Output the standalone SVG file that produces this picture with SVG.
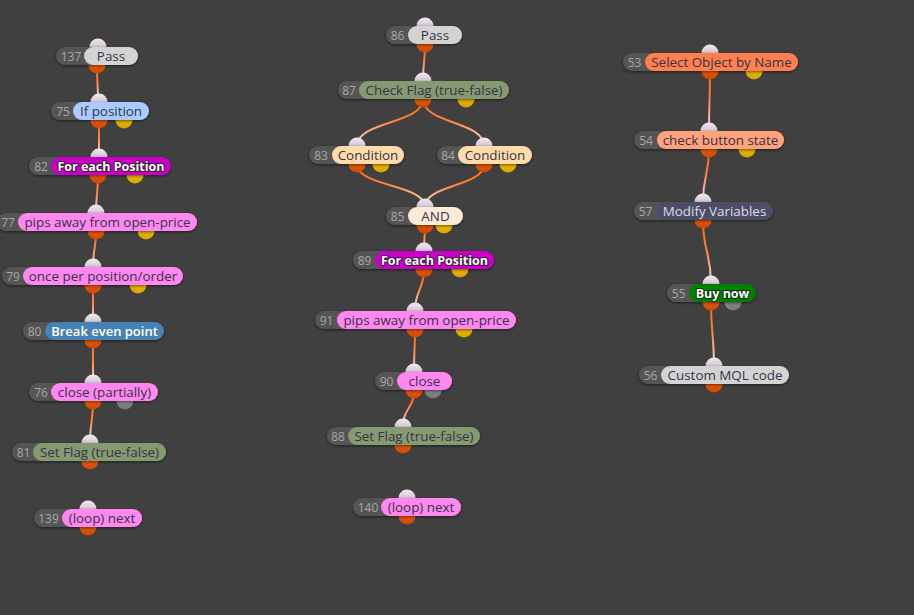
<svg xmlns="http://www.w3.org/2000/svg" xmlns:xlink="http://www.w3.org/1999/xlink" width="914" height="615" viewBox="0 0 914 615">
<defs>
<linearGradient id="gIn" x1="0" y1="0" x2="0" y2="1"><stop offset="0" stop-color="#f2e8f2"/><stop offset="1" stop-color="#b5a5b5"/></linearGradient>
<linearGradient id="gOut" x1="0" y1="0" x2="0" y2="1"><stop offset="0" stop-color="#ff6d10"/><stop offset="1" stop-color="#d04800"/></linearGradient>
<linearGradient id="gY" x1="0" y1="0" x2="0" y2="1"><stop offset="0" stop-color="#ffcc00"/><stop offset="1" stop-color="#d8a400"/></linearGradient>
<linearGradient id="gG" x1="0" y1="0" x2="0" y2="1"><stop offset="0" stop-color="#9a9a9a"/><stop offset="1" stop-color="#777"/></linearGradient>
<linearGradient id="cg"><stop offset="0" stop-color="#ff6a10"/><stop offset="0.45" stop-color="#ff7f3a"/><stop offset="1" stop-color="#f4e2ec"/></linearGradient>
<linearGradient id="c1" xlink:href="#cg" gradientUnits="userSpaceOnUse" x1="0" y1="65" x2="0" y2="102"/>
<linearGradient id="c2" xlink:href="#cg" gradientUnits="userSpaceOnUse" x1="0" y1="120" x2="0" y2="157"/>
<linearGradient id="c3" xlink:href="#cg" gradientUnits="userSpaceOnUse" x1="0" y1="175" x2="0" y2="213"/>
<linearGradient id="c4" xlink:href="#cg" gradientUnits="userSpaceOnUse" x1="0" y1="231" x2="0" y2="267"/>
<linearGradient id="c5" xlink:href="#cg" gradientUnits="userSpaceOnUse" x1="0" y1="285" x2="0" y2="322"/>
<linearGradient id="c6" xlink:href="#cg" gradientUnits="userSpaceOnUse" x1="0" y1="340" x2="0" y2="383"/>
<linearGradient id="c7" xlink:href="#cg" gradientUnits="userSpaceOnUse" x1="0" y1="401" x2="0" y2="443"/>
<linearGradient id="m1" xlink:href="#cg" gradientUnits="userSpaceOnUse" x1="0" y1="44" x2="0" y2="81"/>
<linearGradient id="m2" xlink:href="#cg" gradientUnits="userSpaceOnUse" x1="0" y1="99" x2="0" y2="146"/>
<linearGradient id="m3" xlink:href="#cg" gradientUnits="userSpaceOnUse" x1="0" y1="164" x2="0" y2="207"/>
<linearGradient id="m4" xlink:href="#cg" gradientUnits="userSpaceOnUse" x1="0" y1="225" x2="0" y2="251"/>
<linearGradient id="m5" xlink:href="#cg" gradientUnits="userSpaceOnUse" x1="0" y1="269" x2="0" y2="311"/>
<linearGradient id="m6" xlink:href="#cg" gradientUnits="userSpaceOnUse" x1="0" y1="329" x2="0" y2="372"/>
<linearGradient id="m7" xlink:href="#cg" gradientUnits="userSpaceOnUse" x1="0" y1="390" x2="0" y2="427"/>
<linearGradient id="r1" xlink:href="#cg" gradientUnits="userSpaceOnUse" x1="0" y1="71" x2="0" y2="131"/>
<linearGradient id="r2" xlink:href="#cg" gradientUnits="userSpaceOnUse" x1="0" y1="149" x2="0" y2="202"/>
<linearGradient id="r3" xlink:href="#cg" gradientUnits="userSpaceOnUse" x1="0" y1="220" x2="0" y2="284"/>
<linearGradient id="r4" xlink:href="#cg" gradientUnits="userSpaceOnUse" x1="0" y1="302" x2="0" y2="366"/>
<filter id="sh" x="-20%" y="-50%" width="140%" height="200%"><feDropShadow dx="0" dy="1" stdDeviation="1.5" flood-color="#000" flood-opacity="0.55"/></filter>
</defs>
<style>
.in{fill:url(#gIn)}
.out{fill:url(#gOut)}
.yel{fill:url(#gY)}
.gry{fill:url(#gG)}
.idp{fill:#555555}
.id{font-family:"Open Sans","Noto Sans",sans-serif;font-size:12px;fill:#a8a8a8;text-anchor:middle}
.lb{font-family:"Open Sans","Noto Sans",sans-serif;font-size:13.4px;fill:#33334a;text-anchor:middle}
.wb{font-family:"Open Sans","Noto Sans",sans-serif;font-size:12.5px;font-weight:bold;fill:#fff;text-anchor:middle;stroke:#3a1a3a;stroke-width:2;stroke-linejoin:round;paint-order:stroke}
.pl{filter:url(#sh)}
.grey{fill:#d3d3d3}
.pink{fill:#ff88f0}
.mag{fill:#c800c8}
.flag{fill:#87996f}
.cond{fill:#ffdcaa}
.conn path{fill:none;stroke-width:2}
</style>
<rect width="914" height="615" fill="#404040"/>
<g id="connectors" class="conn">
<path d="M97,65 C97,84 98,83 98,102" stroke="url(#c1)"/>
<path d="M99,120 C99,139 99,138 99,157" stroke="url(#c2)"/>
<path d="M98,175 C98,194 96,194 96,213" stroke="url(#c3)"/>
<path d="M96,231 C96,249 93,249 93,267" stroke="url(#c4)"/>
<path d="M93,285 C93,304 93,303 93,322" stroke="url(#c5)"/>
<path d="M93,340 C93,362 93,361 93,383" stroke="url(#c6)"/>
<path d="M93,401 C93,422 90,422 90,443" stroke="url(#c7)"/>
<path d="M425,44 C425,63 423,62 423,81" stroke="url(#m1)"/>
<path d="M423,99 C423,124 357,121 357,146" stroke="url(#m2)"/>
<path d="M423,99 C423,124 484,121 484,146" stroke="url(#m2)"/>
<path d="M357,164 C357,187 425,184 425,207" stroke="url(#m3)"/>
<path d="M484,164 C484,187 425,184 425,207" stroke="url(#m3)"/>
<path d="M425,225 C425,238 424,238 424,251" stroke="url(#m4)"/>
<path d="M424,269 C424,290 415,290 415,311" stroke="url(#m5)"/>
<path d="M415,329 C415,351 414,350 414,372" stroke="url(#m6)"/>
<path d="M414,390 C414,409 403,408 403,427" stroke="url(#m7)"/>
<path d="M710,71 C710,101 709,101 709,131" stroke="url(#r1)"/>
<path d="M709,149 C709,176 703,175 703,202" stroke="url(#r2)"/>
<path d="M703,220 C703,252 711,252 711,284" stroke="url(#r3)"/>
<path d="M711,302 C711,334 714,334 714,366" stroke="url(#r4)"/>
</g>
<g id="n137">
<circle class="in" cx="98" cy="47" r="8.5"/><circle class="out" cx="97" cy="65" r="8.5"/>
<g class="pl"><rect class="idp" x="56" y="47" width="50" height="18" rx="9"/><rect class="grey" x="84" y="47" width="54" height="18" rx="9"/></g>
<text class="id" x="71" y="60.5">137</text><text class="lb" x="111" y="60.7">Pass</text>
</g>
<g id="n75">
<circle class="in" cx="99" cy="102" r="8.5"/><circle class="yel" cx="124" cy="120" r="8.5"/><circle class="out" cx="99" cy="120" r="8.5"/>
<g class="pl"><rect class="idp" x="51" y="102" width="50" height="18" rx="9"/><rect x="73" y="102" width="76" height="18" rx="9" fill="#a9cbff"/></g>
<text class="id" x="63" y="115.5">75</text><text class="lb" x="111" y="115.7">If position</text>
</g>
<g id="n82">
<circle class="in" cx="99" cy="157" r="8.5"/><circle class="yel" cx="135" cy="175" r="8.5"/><circle class="out" cx="98" cy="175" r="8.5"/>
<g class="pl"><rect class="idp" x="29" y="157" width="50" height="18" rx="9"/><rect class="mag" x="51" y="157" width="120" height="18" rx="9"/></g>
<text class="id" x="41" y="170.5">82</text><text class="wb" x="111" y="170.5">For each Position</text>
</g>
<g id="n77">
<circle class="in" cx="96" cy="213" r="8.5"/><circle class="yel" cx="146" cy="231" r="8.5"/><circle class="out" cx="96" cy="231" r="8.5"/>
<g class="pl"><rect class="idp" x="-3" y="213" width="50" height="18" rx="9"/><rect class="pink" x="18" y="213" width="179" height="18" rx="9"/></g>
<text class="id" x="8" y="226.5">77</text><text class="lb" x="107.5" y="226.7">pips away from open-price</text>
</g>
<g id="n79">
<circle class="in" cx="93" cy="267" r="8.5"/><circle class="yel" cx="138" cy="285" r="8.5"/><circle class="out" cx="93" cy="285" r="8.5"/>
<g class="pl"><rect class="idp" x="2" y="267" width="50" height="18" rx="9"/><rect class="pink" x="23" y="267" width="160" height="18" rx="9"/></g>
<text class="id" x="13" y="280.5">79</text><text class="lb" x="103" y="280.7">once per position/order</text>
</g>
<g id="n80">
<circle class="in" cx="93" cy="322" r="8.5"/><circle class="out" cx="93" cy="340" r="8.5"/>
<g class="pl"><rect class="idp" x="23" y="322" width="50" height="18" rx="9"/><rect x="45" y="322" width="119" height="18" rx="9" fill="#4682b4"/></g>
<text class="id" x="34.5" y="335.5">80</text><text class="lb" x="104.5" y="335.7" style="fill:#fff;font-weight:600;font-size:13px">Break even point</text>
</g>
<g id="n76">
<circle class="in" cx="93" cy="383" r="8.5"/><circle class="gry" cx="125" cy="401" r="8.5"/><circle class="out" cx="93" cy="401" r="8.5"/>
<g class="pl"><rect class="idp" x="29" y="383" width="50" height="18" rx="9"/><rect class="pink" x="51" y="383" width="107" height="18" rx="9"/></g>
<text class="id" x="41" y="396.5">76</text><text class="lb" x="104.5" y="396.7">close (partially)</text>
</g>
<g id="n81">
<circle class="in" cx="90" cy="443" r="8.5"/><circle class="out" cx="90" cy="461" r="8.5"/>
<g class="pl"><rect class="idp" x="12" y="443" width="50" height="18" rx="9"/><rect class="flag" x="33" y="443" width="133" height="18" rx="9"/></g>
<text class="id" x="23.5" y="456.5">81</text><text class="lb" x="99.5" y="456.7">Set Flag (true-false)</text>
</g>
<g id="n139">
<circle class="in" cx="88" cy="509" r="8.5"/><circle class="out" cx="88" cy="527" r="8.5"/>
<g class="pl"><rect class="idp" x="34" y="509" width="50" height="18" rx="9"/><rect class="pink" x="62" y="509" width="80" height="18" rx="9"/></g>
<text class="id" x="48.5" y="522.5">139</text><text class="lb" x="102" y="522.7">(loop) next</text>
</g>
<g id="n86">
<circle class="in" cx="425" cy="26" r="8.5"/><circle class="out" cx="425" cy="44" r="8.5"/>
<g class="pl"><rect class="idp" x="386" y="26" width="50" height="18" rx="9"/><rect class="grey" x="408" y="26" width="54" height="18" rx="9"/></g>
<text class="id" x="397.5" y="39.5">86</text><text class="lb" x="435" y="39.7">Pass</text>
</g>
<g id="n87">
<circle class="in" cx="423" cy="81" r="8.5"/><circle class="yel" cx="466" cy="99" r="8.5"/><circle class="out" cx="423" cy="99" r="8.5"/>
<g class="pl"><rect class="idp" x="338" y="81" width="50" height="18" rx="9"/><rect class="flag" x="359" y="81" width="150" height="18" rx="9"/></g>
<text class="id" x="349" y="94.5">87</text><text class="lb" x="434" y="94.7">Check Flag (true-false)</text>
</g>
<g id="n83">
<circle class="in" cx="357" cy="146" r="8.5"/><circle class="yel" cx="381" cy="164" r="8.5"/><circle class="out" cx="357" cy="164" r="8.5"/>
<g class="pl"><rect class="idp" x="309" y="146" width="50" height="18" rx="9"/><rect class="cond" x="332" y="146" width="72" height="18" rx="9"/></g>
<text class="id" x="321" y="159.5">83</text><text class="lb" x="368" y="159.7">Condition</text>
</g>
<g id="n84">
<circle class="in" cx="484" cy="146" r="8.5"/><circle class="yel" cx="508" cy="164" r="8.5"/><circle class="out" cx="484" cy="164" r="8.5"/>
<g class="pl"><rect class="idp" x="437" y="146" width="50" height="18" rx="9"/><rect class="cond" x="458" y="146" width="74" height="18" rx="9"/></g>
<text class="id" x="448" y="159.5">84</text><text class="lb" x="495" y="159.7">Condition</text>
</g>
<g id="n85">
<circle class="in" cx="425" cy="207" r="8.5"/><circle class="yel" cx="444" cy="225" r="8.5"/><circle class="out" cx="425" cy="225" r="8.5"/>
<g class="pl"><rect class="idp" x="386" y="207" width="50" height="18" rx="9"/><rect x="408" y="207" width="55" height="18" rx="9" fill="#fdebd9"/></g>
<text class="id" x="397.5" y="220.5">85</text><text class="lb" x="435.5" y="220.7">AND</text>
</g>
<g id="n89">
<circle class="in" cx="424" cy="251" r="8.5"/><circle class="yel" cx="460" cy="269" r="8.5"/><circle class="out" cx="424" cy="269" r="8.5"/>
<g class="pl"><rect class="idp" x="353" y="251" width="50" height="18" rx="9"/><rect class="mag" x="375" y="251" width="119" height="18" rx="9"/></g>
<text class="id" x="364.5" y="264.5">89</text><text class="wb" x="434.5" y="264.5">For each Position</text>
</g>
<g id="n91">
<circle class="in" cx="415" cy="311" r="8.5"/><circle class="yel" cx="464" cy="329" r="8.5"/><circle class="out" cx="415" cy="329" r="8.5"/>
<g class="pl"><rect class="idp" x="315" y="311" width="50" height="18" rx="9"/><rect class="pink" x="337" y="311" width="179" height="18" rx="9"/></g>
<text class="id" x="326.5" y="324.5">91</text><text class="lb" x="426.5" y="324.7">pips away from open-price</text>
</g>
<g id="n90">
<circle class="in" cx="414" cy="372" r="8.5"/><circle class="gry" cx="433" cy="390" r="8.5"/><circle class="out" cx="414" cy="390" r="8.5"/>
<g class="pl"><rect class="idp" x="375" y="372" width="50" height="18" rx="9"/><rect class="pink" x="397" y="372" width="55" height="18" rx="9"/></g>
<text class="id" x="386.5" y="385.5">90</text><text class="lb" x="424.5" y="385.7">close</text>
</g>
<g id="n88">
<circle class="in" cx="403" cy="427" r="8.5"/><circle class="out" cx="403" cy="445" r="8.5"/>
<g class="pl"><rect class="idp" x="327" y="427" width="50" height="18" rx="9"/><rect class="flag" x="348" y="427" width="132" height="18" rx="9"/></g>
<text class="id" x="338" y="440.5">88</text><text class="lb" x="414" y="440.7">Set Flag (true-false)</text>
</g>
<g id="n140">
<circle class="in" cx="407" cy="498" r="8.5"/><circle class="out" cx="407" cy="516" r="8.5"/>
<g class="pl"><rect class="idp" x="353" y="498" width="50" height="18" rx="9"/><rect class="pink" x="381" y="498" width="80" height="18" rx="9"/></g>
<text class="id" x="368" y="511.5">140</text><text class="lb" x="421" y="511.7">(loop) next</text>
</g>
<g id="n53">
<circle class="in" cx="710" cy="53" r="8.5"/><circle class="yel" cx="754" cy="71" r="8.5"/><circle class="out" cx="710" cy="71" r="8.5"/>
<g class="pl"><rect class="idp" x="623" y="53" width="50" height="18" rx="9"/><rect x="645" y="53" width="153" height="18" rx="9" fill="#ff7f50"/></g>
<text class="id" x="634.5" y="66.5">53</text><text class="lb" x="721.5" y="66.7">Select Object by Name</text>
</g>
<g id="n54">
<circle class="in" cx="709" cy="131" r="8.5"/><circle class="yel" cx="747" cy="149" r="8.5"/><circle class="out" cx="709" cy="149" r="8.5"/>
<g class="pl"><rect class="idp" x="634" y="131" width="50" height="18" rx="9"/><rect x="657" y="131" width="127" height="18" rx="9" fill="#ffa27c"/></g>
<text class="id" x="646" y="144.5">54</text><text class="lb" x="720.5" y="144.7">check button state</text>
</g>
<g id="n57">
<circle class="in" cx="703" cy="202" r="8.5"/><circle class="out" cx="703" cy="220" r="8.5"/>
<g class="pl"><rect class="idp" x="634" y="202" width="50" height="18" rx="9"/><rect x="656" y="202" width="117" height="18" rx="9" fill="#4e4e66"/></g>
<text class="id" x="645.5" y="215.5">57</text><text class="lb" x="714.5" y="215.7" style="fill:#dcdce6">Modify Variables</text>
</g>
<g id="n55">
<circle class="in" cx="711" cy="284" r="8.5"/><circle class="gry" cx="733" cy="302" r="8.5"/><circle class="out" cx="711" cy="302" r="8.5"/>
<g class="pl"><rect class="idp" x="667" y="284" width="50" height="18" rx="9"/><rect x="689" y="284" width="67" height="18" rx="9" fill="#008000"/></g>
<text class="id" x="678.5" y="297.5">55</text><text class="wb" x="722.5" y="297.5" style="stroke:#0a300a">Buy now</text>
</g>
<g id="n56">
<circle class="in" cx="714" cy="366" r="8.5"/><circle class="out" cx="714" cy="384" r="8.5"/>
<g class="pl"><rect class="idp" x="639" y="366" width="50" height="18" rx="9"/><rect class="grey" x="661" y="366" width="128" height="18" rx="9"/></g>
<text class="id" x="650.5" y="379.5">56</text><text class="lb" x="725" y="379.7">Custom MQL code</text>
</g>
</svg>
